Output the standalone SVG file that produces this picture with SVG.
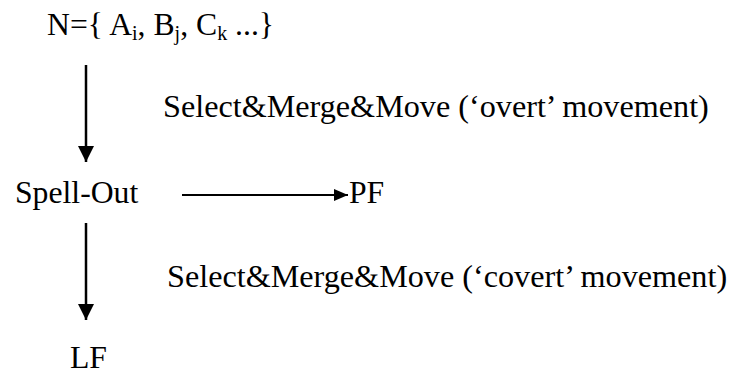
<svg xmlns="http://www.w3.org/2000/svg" width="729" height="376" viewBox="0 0 729 376">
  <defs>
    <marker id="head-down" markerUnits="userSpaceOnUse" markerWidth="16" markerHeight="17" viewBox="0 0 16 17" refX="16" refY="8" orient="auto">
      <path d="M0,0 L16,8 L0,16 Z" fill="#000"/>
    </marker>
    <marker id="head-right" markerUnits="userSpaceOnUse" markerWidth="14" markerHeight="12" viewBox="0 0 14 12" refX="14" refY="6" orient="auto">
      <path d="M0,0 L14,6 L0,12 Z" fill="#000"/>
    </marker>
  </defs>
  <style>
    text { font-family: "Liberation Serif", "Times New Roman", serif; font-size: 31.7px; fill: #000; }
    .sub { font-size: 20px; }
    .rule { font-size: 32.2px; }
    .edge { stroke: #000; fill: none; }
  </style>
  <rect width="729" height="376" fill="#fff"/>

  <g id="numeration">
    <text x="47" y="35">N={ A<tspan class="sub" dy="5">i</tspan><tspan dy="-5">, B</tspan><tspan class="sub" dy="5">j</tspan><tspan dy="-5">, C</tspan><tspan class="sub" dy="5">k</tspan><tspan dy="-5"> ...}</tspan></text>
  </g>

  <g id="spell-out">
    <text x="15" y="203">Spell-Out</text>
  </g>

  <g id="pf">
    <text x="349" y="203">PF</text>
  </g>

  <g id="lf">
    <text x="70" y="368">LF</text>
  </g>

  <g id="labels">
    <text class="rule" x="163" y="117">Select&amp;Merge&amp;Move (‘overt’ movement)</text>
    <text class="rule" x="167" y="287">Select&amp;Merge&amp;Move (‘covert’ movement)</text>
  </g>

  <g id="connectors">
    <line class="edge" x1="86" y1="65" x2="86" y2="162" stroke-width="2.5" marker-end="url(#head-down)"/>
    <line class="edge" x1="86" y1="223" x2="86" y2="320" stroke-width="2.5" marker-end="url(#head-down)"/>
    <line class="edge" x1="182" y1="195" x2="348" y2="195" stroke-width="2" marker-end="url(#head-right)"/>
  </g>
</svg>
